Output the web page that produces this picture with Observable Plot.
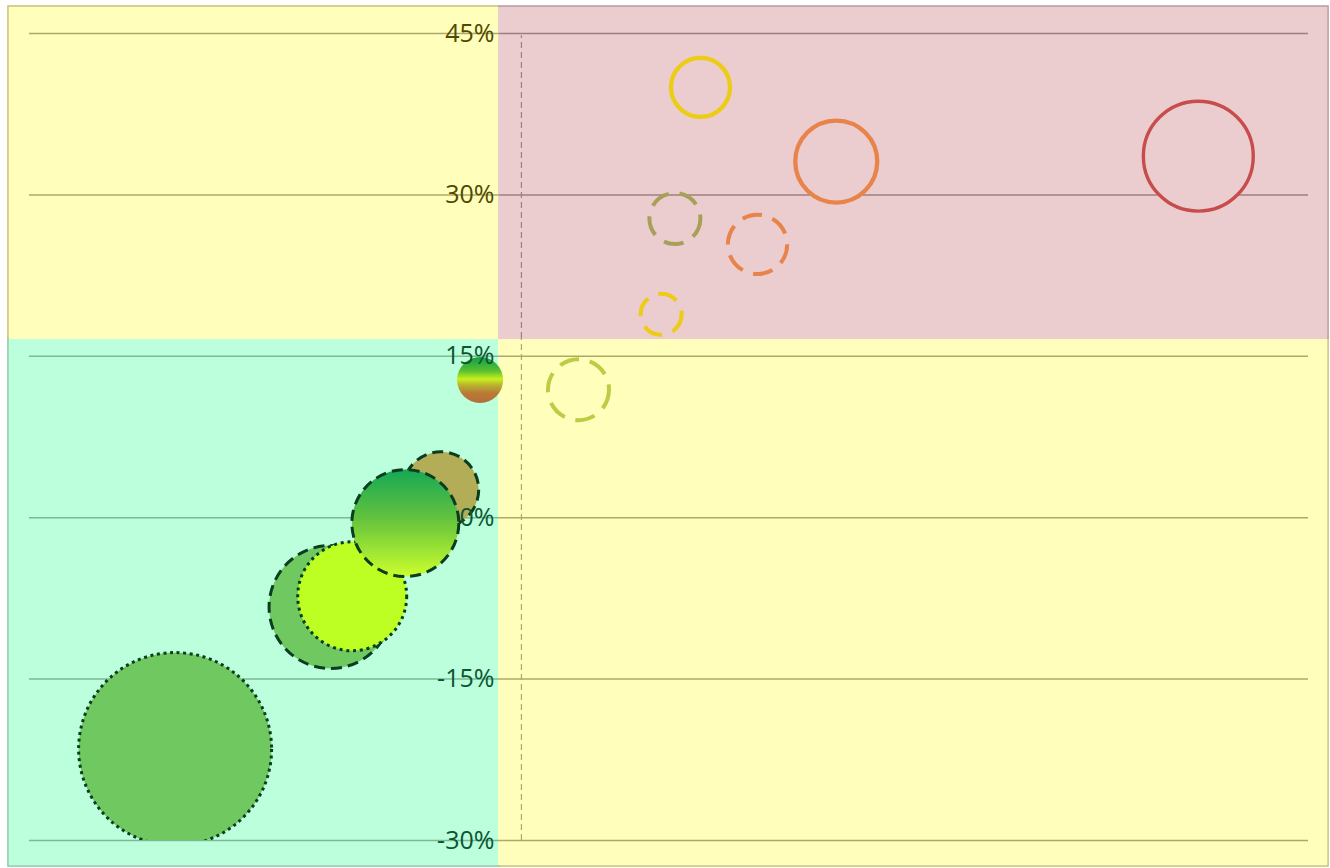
<!DOCTYPE html>
<html><head><meta charset="utf-8">
<script src="https://cdn.jsdelivr.net/npm/d3@7"></script>
<script src="https://cdn.jsdelivr.net/npm/@observablehq/plot@0.6"></script>
<style>body{margin:0;background:#fff}#chart svg{display:block}</style>
</head><body><div id="chart"></div>
<script>
// Bubble data (x in %, y in %, bubble size)
const bubbleX    = [-17.6, -9.7, -8.6, -4.1, -5.9, -2.1, 2.9, 7.1, 7.8, 12.0, 9.1, 16.0, 34.4];
const bubbleY    = [-21.5, -8.3, -7.3, 2.6, -0.5, 12.8, 11.9, 18.9, 27.8, 25.4, 40.0, 33.1, 33.6];
const bubbleSize = [931, 378, 297, 144, 286, 53, 93, 42, 65, 88, 87, 168, 302];
const bubbleKind = ["greenDotted", "greenDashed", "limeDotted", "oliveDashed", "gradDashed", "gradSmall",
                    "ygDash", "yellowDash", "oliveDash", "orangeDash", "yellowSolid", "orangeSolid", "redSolid"];

// Axis ticks
const yTicks = [-30, -15, 0, 15, 30, 45];
const yTickLabels = ["-30%", "-15%", "0%", "15%", "30%", "45%"];
const xDomain = [-25, 40];
const yDomain = [-30, 45];

// Quadrant bounds (edges and split) and colours
const quadX = [-26.07, -1.11, 41.02];
const quadY = [-32.42, 16.65, 47.51];
const quadFill   = {ll: "#bbffdc", lr: "#ffffbb", ul: "#ffffbb", ur: "#ebcdcf"};
const quadStroke = {ll: "#8fcaa8", lr: "#c8c27a", ul: "#c8c27a", ur: "#b89ca0"};
const quadGrid   = {ll: "#7eb894", lr: "#aea86c", ul: "#aea86c", ur: "#9e7e82"};
const quadText   = {ll: "#0c5532", lr: "#4f4a00", ul: "#4f4a00", ur: "#4f4a00"};

const dark = "#0b3d20";
const styles = {
  greenDotted: {fill: "#70c960", stroke: dark, strokeWidth: 3, dash: "3,3.6"},
  greenDashed: {fill: "#70c960", stroke: dark, strokeWidth: 3, dash: "11,6"},
  limeDotted:  {fill: "#bdff22", stroke: dark, strokeWidth: 3, dash: "3,3.8"},
  oliveDashed: {fill: "#b4ad58", stroke: dark, strokeWidth: 3, dash: "11,6"},
  gradDashed:  {fill: "url(#gradGreen)", stroke: dark, strokeWidth: 3, dash: "11,6"},
  gradSmall:   {fill: "url(#gradSmall)", stroke: "none", strokeWidth: 0, dash: null},
  ygDash:      {fill: "none", stroke: "#bccc44", strokeWidth: 4, dash: "20,11"},
  yellowDash:  {fill: "none", stroke: "#eccc14", strokeWidth: 4, dash: "20,11"},
  oliveDash:   {fill: "none", stroke: "#a8a058", strokeWidth: 4, dash: "20,11"},
  orangeDash:  {fill: "none", stroke: "#e8834a", strokeWidth: 4, dash: "20,11"},
  yellowSolid: {fill: "#ebcdcf", stroke: "#eccc14", strokeWidth: 4.3, dash: null},
  orangeSolid: {fill: "#ebcdcf", stroke: "#e8834a", strokeWidth: 4.3, dash: null},
  redSolid:    {fill: "#ebcdcf", stroke: "#c84c4c", strokeWidth: 3.4, dash: null}
};

const bubbles = bubbleX.map((x, i) => ({x, y: bubbleY[i], size: bubbleSize[i], kind: bubbleKind[i]}));

const quadrants = [
  {k: "ll", x1: quadX[0], x2: quadX[1], y1: quadY[0], y2: quadY[1], inset: {insetRight: -1, insetTop: -1, insetLeft: 1, insetBottom: 1}},
  {k: "lr", x1: quadX[1], x2: quadX[2], y1: quadY[0], y2: quadY[1], inset: {insetLeft: -1, insetTop: -1, insetRight: 1, insetBottom: 1}},
  {k: "ul", x1: quadX[0], x2: quadX[1], y1: quadY[1], y2: quadY[2], inset: {insetRight: -1, insetBottom: -1, insetLeft: 1, insetTop: 1}},
  {k: "ur", x1: quadX[1], x2: quadX[2], y1: quadY[1], y2: quadY[2], inset: {insetLeft: -1, insetBottom: -1, insetRight: 1, insetTop: 1}}
];
const quadOf = (x, y) => (y > quadY[1] ? "u" : "l") + (x > quadX[1] ? "r" : "l");

// gridline segments, split at the quadrant boundary
const gridSegs = yTicks.flatMap(y => [
  {y, x1: xDomain[0], x2: quadX[1], k: quadOf(xDomain[0], y)},
  {y, x1: quadX[1], x2: xDomain[1], k: quadOf(xDomain[1], y)}
]);
const axisSegs = [
  {x: 0, y1: yDomain[0], y2: quadY[1], k: quadOf(0, yDomain[0])},
  {x: 0, y1: quadY[1], y2: 44.8, k: quadOf(0, yDomain[1])}
];

const defsMark = () => {
  const defs = d3.create("svg:defs");
  const g1 = defs.append("linearGradient").attr("id", "gradGreen").attr("x1", 0).attr("y1", 0).attr("x2", 0).attr("y2", 1);
  [[0, "#16a855"], [0.45, "#62c23e"], [1, "#ccff2c"]].forEach(([o, c]) => g1.append("stop").attr("offset", o).attr("stop-color", c));
  const g2 = defs.append("linearGradient").attr("id", "gradSmall").attr("x1", 0).attr("y1", 0).attr("x2", 0).attr("y2", 1);
  [[0, "#10a048"], [0.3, "#58c030"], [0.48, "#c8f01c"], [0.62, "#b8b030"], [0.78, "#b87c36"], [1, "#b86a3a"]].forEach(([o, c]) => g2.append("stop").attr("offset", o).attr("stop-color", c));
  return defs.node();
};

const marks = [
  defsMark,
  Plot.rect(quadrants, {x1: "x1", x2: "x2", y1: "y1", y2: "y2",
    fill: d => quadFill[d.k], stroke: d => quadStroke[d.k], strokeWidth: 1.5}),
  ...quadrants.map(q => Plot.rect([q], {x1: "x1", x2: "x2", y1: "y1", y2: "y2", fill: d => quadFill[d.k], ...q.inset})),
  Plot.ruleY(gridSegs, {y: "y", x1: "x1", x2: "x2", stroke: d => quadGrid[d.k], strokeWidth: 1.5}),
  Plot.ruleX(axisSegs, {x: "x", y1: "y1", y2: "y2", stroke: d => quadGrid[d.k], strokeWidth: 1.2, strokeDasharray: "6,4"}),
  ...bubbles.map(b => {
    const s = styles[b.kind];
    return Plot.dot([b], {x: "x", y: "y", r: "size", fill: s.fill, stroke: s.stroke,
      strokeWidth: s.strokeWidth, strokeDasharray: s.dash ?? undefined, clip: "frame"});
  }),
  Plot.text(yTicks, {x: () => 0, y: d => d, text: (d, i) => yTickLabels[i], textAnchor: "end", dx: -27,
    fontSize: 25, fontFamily: "Open Sans",
    fill: d => quadText[quadOf(-1e9, d)]})
];

const chart = Plot.plot({
  width: 1330, height: 868,
  marginLeft: 29, marginRight: 22, marginTop: 33, marginBottom: 28,
  x: {domain: xDomain, axis: null},
  y: {domain: yDomain, axis: null},
  r: {type: "sqrt", domain: [0, 1000], range: [0, 100]},
  fill: {type: "identity"},
  stroke: {type: "identity"},
  style: {background: "white", overflow: "visible"},
  marks
});
document.getElementById("chart").appendChild(chart);
</script>
</body></html>
